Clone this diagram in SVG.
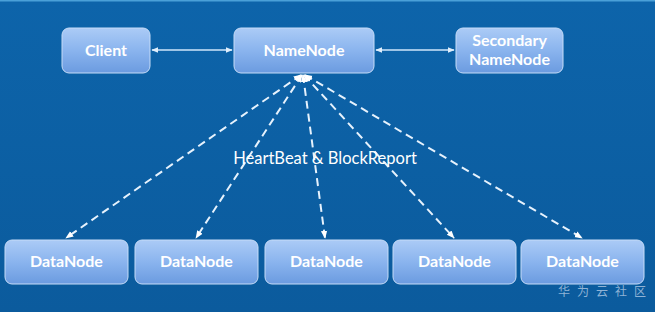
<svg xmlns="http://www.w3.org/2000/svg" width="655" height="312" viewBox="0 0 655 312">
<defs>
<linearGradient id="bg" x1="0" y1="0" x2="0" y2="1">
<stop offset="0" stop-color="#0d64aa"/>
<stop offset="1" stop-color="#0b5b9d"/>
</linearGradient>
<linearGradient id="box" x1="0" y1="0" x2="0" y2="1">
<stop offset="0" stop-color="#abcbf6"/>
<stop offset="0.5" stop-color="#8ab4ee"/>
<stop offset="1" stop-color="#6b9be0"/>
</linearGradient>
<marker id="ah" viewBox="0 0 10 10" refX="9" refY="5" markerWidth="7" markerHeight="7" orient="auto-start-reverse" markerUnits="userSpaceOnUse">
<path d="M0,1 L10,5 L0,9 Z" fill="#dfeefc"/>
</marker>
<marker id="as" viewBox="0 0 10 10" refX="9" refY="5" markerWidth="8" markerHeight="8" orient="auto-start-reverse" markerUnits="userSpaceOnUse">
<path d="M0,1 L10,5 L0,9 Z" fill="#ffffff"/>
</marker>
</defs>
<style>
.node rect{fill:url(#box);stroke:#c6dcf8;stroke-width:1}
.node text{font-family:Lato,"Open Sans",sans-serif;font-weight:bold;font-size:16px;fill:#ffffff;text-anchor:middle}
.solid{stroke:#cfe6fb;stroke-width:1.5;fill:none;marker-start:url(#ah);marker-end:url(#ah)}
.dash{stroke:#e6f2fd;stroke-width:2;fill:none;stroke-dasharray:8,5;marker-start:url(#as);marker-end:url(#as)}
.lbl{font-family:Lato,"Open Sans",sans-serif;font-size:16.5px;fill:#ffffff;text-anchor:middle}
.wm{font-family:"Noto Sans CJK SC",sans-serif;font-size:12px;fill:#8fb3d6}
</style>
<rect x="0" y="0" width="655" height="312" fill="url(#bg)"/>
<rect x="0" y="0" width="655" height="1.5" fill="#4aa0d8"/>
<g id="client" class="node"><rect x="62" y="28" width="88" height="45" rx="7"/><text x="106" y="56">Client</text></g>
<g id="namenode" class="node"><rect x="234" y="28" width="140" height="45" rx="7"/><text x="304" y="56">NameNode</text></g>
<g id="secondary" class="node"><rect x="456" y="28" width="107" height="45" rx="7"/><text x="509.5" y="46">Secondary</text><text x="509.5" y="65">NameNode</text></g>
<g id="dn1" class="node"><rect x="5" y="240" width="123" height="44" rx="7"/><text x="66.5" y="267">DataNode</text></g>
<g id="dn2" class="node"><rect x="135" y="240" width="123" height="44" rx="7"/><text x="196.5" y="267">DataNode</text></g>
<g id="dn3" class="node"><rect x="265" y="240" width="123" height="44" rx="7"/><text x="326.5" y="267">DataNode</text></g>
<g id="dn4" class="node"><rect x="393" y="240" width="123" height="44" rx="7"/><text x="454.5" y="267">DataNode</text></g>
<g id="dn5" class="node"><rect x="521" y="240" width="123" height="44" rx="7"/><text x="582.5" y="267">DataNode</text></g>
<g id="connectors">
<line class="solid" x1="152" y1="50" x2="232" y2="50"/>
<line class="solid" x1="376" y1="50" x2="454" y2="50"/>
<line class="dash" x1="301" y1="75" x2="66" y2="238"/>
<line class="dash" x1="302" y1="75" x2="196" y2="238"/>
<line class="dash" x1="303" y1="75" x2="325" y2="238"/>
<line class="dash" x1="304" y1="75" x2="454" y2="238"/>
<line class="dash" x1="305" y1="75" x2="582" y2="238"/>
</g>
<text class="lbl" x="325" y="164">HeartBeat &amp; BlockReport</text>
<text class="wm" x="558" y="296" letter-spacing="7">华为云社区</text>
</svg>
